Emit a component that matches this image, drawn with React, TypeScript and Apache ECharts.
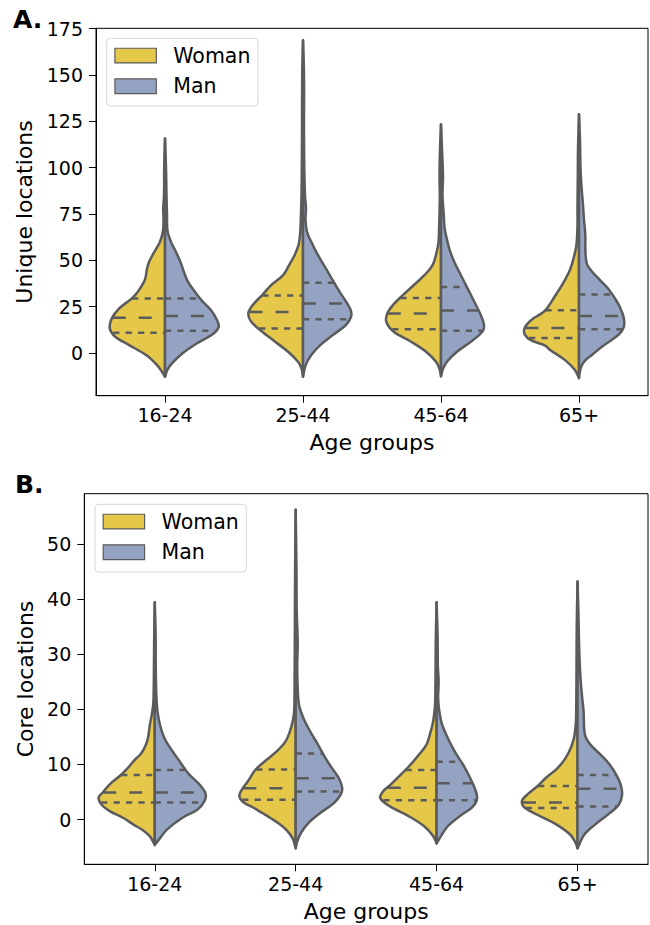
import React, { useEffect, useRef } from 'react';
import * as echarts from 'echarts';

// ---------- DATA ----------
const ageGroups = ['16-24', '25-44', '45-64', '65+'];
const sexes = ['Woman', 'Man'];
const uniqueTicks = [0, 25, 50, 75, 100, 125, 150, 175];
const coreTicks = [0, 10, 20, 30, 40, 50];

// density profiles: [value, relative density], from top of the violin to its bottom
const uniqueWomanDensity = [
  [[115.7, 0], [100, 0.8], [85, 1], [78, 1.8], [72, 1.5], [66, 2], [60, 5], [54.6, 10.7], [49.2, 16], [45.6, 18], [41, 19.5], [38.5, 21], [33.1, 27.3], [29.5, 33.3], [24.1, 46], [18.7, 53.5], [13.3, 55.5], [8.8, 50], [4.3, 36], [-1.1, 19], [-6.5, 8], [-10.1, 3], [-12.8, 0]],
  [[168.7, 0], [150, 0.8], [120, 1], [100, 1.2], [85, 1.5], [75, 2], [68, 2.5], [63.6, 3], [58.2, 4.5], [52.8, 8.5], [47.4, 14], [42, 20], [36.7, 32], [31.3, 41], [25.9, 50.5], [21.4, 55], [16.9, 52], [11.5, 41], [6.1, 28], [0.7, 15], [-4.7, 5], [-8.3, 1.5], [-12.8, 0]],
  [[123.3, 0], [110, 1], [95, 1.5], [85, 1.2], [75, 1.5], [66, 2], [60, 2.5], [54.6, 4.3], [47.4, 8.5], [42, 16.7], [36.7, 27.3], [31.3, 38.3], [25.9, 48.3], [21.4, 54], [16.9, 55], [11.5, 47.5], [6.1, 30], [0.7, 15], [-4.7, 5], [-8.5, 1.5], [-12.5, 0]],
  [[128.8, 0], [110, 1], [95, 1.2], [80, 1.5], [70, 1.5], [62, 2], [57, 3], [50, 6], [45, 9], [40, 13.5], [35, 19], [30, 25], [25, 31], [22, 36], [19, 45], [16, 51.5], [13, 55], [10, 54.5], [7, 48.5], [4, 34], [1.6, 29], [-3.8, 14], [-9.2, 4], [-13.5, 0]],
];
const uniqueManDensity = [
  [[115.7, 0], [100, 1], [85, 1.5], [75, 2], [66, 2.5], [60, 6], [54.6, 11], [49.2, 15.5], [43.8, 19], [38.5, 23], [33.1, 30], [28, 37.5], [23, 46.5], [17.5, 52.5], [14, 54], [10.6, 49], [5.2, 32], [0, 18], [-5.6, 7], [-9, 2.5], [-12.8, 0]],
  [[168.7, 0], [150, 1], [120, 1], [100, 1.3], [85, 2], [78, 3], [72, 2.5], [65.4, 4], [60, 8.3], [54.6, 13.3], [49.2, 19], [43.8, 25], [38.5, 30.7], [33.1, 36.7], [27.7, 43.3], [23.2, 48], [19.6, 48.3], [15.1, 43], [9.7, 30], [4.3, 17.3], [-1.1, 8.3], [-6.5, 2.7], [-12.8, 0]],
  [[123.3, 0], [110, 1], [95, 2], [85, 1.5], [75, 2.7], [68, 3.5], [63.6, 5], [56.4, 8.3], [49.2, 13.3], [42, 20], [34.9, 26.7], [27.7, 33.5], [20.5, 40], [15.1, 43.3], [11.5, 41.5], [6.1, 30], [0.7, 16], [-4.7, 6], [-8.5, 2], [-12.5, 0]],
  [[128.8, 0], [115, 1], [100, 1.5], [90, 2.5], [80, 4], [72, 5], [64, 6.3], [54, 6.5], [48, 8], [44, 13], [40, 20], [35, 29], [30, 35.5], [25, 41], [19, 45], [14, 45], [10, 40], [3.4, 23], [-1, 13], [-3.8, 6.5], [-7, 2.5], [-11, 0.5], [-13.5, 0]],
];
const coreWomanDensity = [
  [[39.4, 0], [34, 0.5], [28, 0.8], [24, 1], [21, 1.5], [19, 3], [17, 5], [15, 6.5], [13.5, 9], [12, 13.5], [10.8, 20], [9.3, 27], [8, 34], [6.5, 44], [5, 51], [4, 55.5], [2.7, 52.5], [1.5, 44], [0.3, 31], [-0.9, 21], [-1.9, 12], [-3, 5], [-3.9, 2], [-4.6, 0]],
  [[56.2, 0], [45, 0.6], [35, 0.8], [28, 1], [22, 1.2], [19.6, 1.5], [17.8, 3], [16, 5.7], [14.2, 10], [12.5, 18], [10.8, 29], [9, 40], [7, 47], [5.5, 53], [4.3, 55.7], [3.2, 52], [2.2, 42], [1.2, 33], [0.3, 25], [-0.8, 16], [-1.9, 9], [-3.4, 3], [-5.2, 0]],
  [[39.4, 0], [33, 0.8], [28, 1], [24, 1.2], [21, 1.5], [19, 2.5], [17.3, 4], [15.4, 6.7], [13.6, 10], [11.8, 17.3], [10, 25.7], [8.1, 35.7], [6.3, 45.7], [5.1, 53], [3.9, 55.7], [2.4, 46], [0.6, 27.3], [-1.2, 12.3], [-3, 3.3], [-4.3, 0]],
  [[43.2, 0], [35, 0.8], [28, 1], [22, 1.2], [18, 1.5], [16, 2.5], [14.8, 3.5], [13, 6.7], [11.2, 11.7], [9.3, 20], [7.5, 31.7], [6, 40], [4.5, 50], [3.3, 55], [2.1, 51.7], [0.6, 36.7], [-0.9, 20.7], [-2.7, 7.3], [-4.3, 1.7], [-5.2, 0]],
];
const coreManDensity = [
  [[39.4, 0], [34, 0.8], [28, 1], [24, 1.3], [21, 2], [19.6, 2.7], [17.3, 5], [15, 9], [13.5, 13.5], [12, 19], [10.8, 23.7], [10, 26.7], [8.3, 33.5], [6.3, 44.5], [4.7, 50.2], [3.3, 49], [1.8, 42], [0.3, 27], [-1.8, 12], [-3.4, 5], [-4.6, 0]],
  [[56.2, 0], [45, 0.8], [38, 1], [32, 2], [28, 1.5], [24, 2], [20.8, 3.3], [18.4, 7.7], [16, 14.3], [13.6, 22], [11.2, 29.3], [9.3, 36], [7.5, 42.7], [5.7, 46], [4.5, 44.3], [3, 37.7], [1.2, 24.3], [-0.6, 12.7], [-2.4, 5.3], [-4, 1.5], [-5.2, 0]],
  [[39.4, 0], [33, 1], [28, 1.2], [25, 2], [22, 1.5], [19.6, 2.7], [17.3, 5.3], [14.8, 11], [12.4, 17.7], [10, 26], [7.5, 33.3], [5.7, 37.7], [3.9, 40], [2.4, 36], [0.6, 22.7], [-1.2, 11], [-3, 4.3], [-4.3, 0]],
  [[43.2, 0], [38, 0.8], [32, 1.5], [27, 2.5], [23.2, 4], [19.6, 6], [15.4, 7.3], [13.6, 12.7], [11.8, 22.7], [10, 31.7], [8.1, 38.3], [6.3, 42.7], [4.5, 44], [2.7, 40.7], [0.9, 30], [-0.9, 17.3], [-2.7, 6.7], [-5.2, 0]],
];

// quartiles: [Q1, median, Q3]
const uniqueWomanQuartiles = [[10.9, 19.0, 29.5], [13.2, 22.1, 31.1], [12.9, 21.3, 29.7], [8.1, 13.5, 23.1]];
const uniqueManQuartiles = [[12.1, 20.0, 29.5], [18.3, 26.8, 38.0], [12.1, 23.0, 35.6], [12.9, 20.0, 31.6]];
const coreWomanQuartiles = [[3.1, 4.9, 8.1], [3.6, 5.7, 9.1], [3.5, 5.8, 9.0], [2.1, 3.1, 6.1]];
const coreManQuartiles = [[3.1, 4.9, 9.0], [5.1, 7.5, 12.0], [3.5, 6.6, 10.5], [2.4, 5.6, 8.1]];

// ---------- STYLE ----------
const FONT = '"DejaVu Sans", Verdana, sans-serif';
const GRAY = '#5b5b5b';
const WOMAN_COLOR = '#e5c849';
const MAN_COLOR = '#95a3c3';
const LW = 2.5;

type Profile = number[][];

function densityAt(profile: Profile, v: number): number {
  for (let i = 0; i < profile.length - 1; i++) {
    const [v0, d0] = profile[i];
    const [v1, d1] = profile[i + 1];
    if (v <= v0 && v >= v1) {
      const t = v0 === v1 ? 0 : (v0 - v) / (v0 - v1);
      return d0 + (d1 - d0) * t;
    }
  }
  return 0;
}

function maxDensity(...sets: Profile[][]): number {
  let m = 0;
  sets.forEach((s) => s.forEach((p) => p.forEach(([, d]) => { if (d > m) m = d; })));
  return m;
}

function violinSeries(name: string, side: number, profiles: Profile[], quartiles: number[][], axisIndex: number, maxD: number, color: string) {
  return {
    type: 'custom',
    name,
    xAxisIndex: axisIndex,
    yAxisIndex: axisIndex,
    itemStyle: { color, borderColor: GRAY, borderWidth: 1.2 },
    data: ageGroups.map((_, i) => [i, quartiles[i][1]]),
    renderItem: (params: any, api: any) => {
      const i = params.dataIndex;
      const band = api.size([1, 0])[0];
      const half = 0.4 * band;
      const prof = profiles[i];
      const pt = (v: number, d: number) => {
        const c = api.coord([i, v]);
        return [c[0] + side * (d / maxD) * half, c[1]];
      };
      const pts: number[][] = [];
      pts.push(pt(prof[0][0], 0));
      prof.forEach(([v, d]) => pts.push(pt(v, d)));
      pts.push(pt(prof[prof.length - 1][0], 0));
      const children: any[] = [
        {
          type: 'polygon',
          shape: { points: pts, smooth: 0.35 },
          style: { fill: color, stroke: GRAY, lineWidth: LW, lineJoin: 'round' },
        },
      ];
      quartiles[i].forEach((q, k) => {
        const c = api.coord([i, q]);
        const w = (densityAt(prof, q) / maxD) * half * 0.99;
        const outer = c[0] + side * w;
        children.push({
          type: 'line',
          shape: { x1: side < 0 ? outer : c[0], y1: c[1], x2: side < 0 ? c[0] : outer, y2: c[1] },
          style: { stroke: GRAY, lineWidth: LW, lineDash: k === 1 ? [13, 13] : [6.2, 6.2] },
        });
      });
      return { type: 'group', children };
    },
  };
}

function xAxisFor(gridIndex: number) {
  return {
    type: 'category',
    gridIndex,
    data: ageGroups,
    boundaryGap: true,
    axisLine: { show: true, onZero: false, lineStyle: { color: '#000', width: 1 } },
    axisTick: { show: true, alignWithLabel: true, length: 7, lineStyle: { color: '#000', width: 1 } },
    axisLabel: { color: '#000', fontSize: 19, fontFamily: FONT, margin: 10 },
    splitLine: { show: false },
    name: 'Age groups',
    nameLocation: 'middle',
    nameGap: 36,
    nameTextStyle: { color: '#000', fontSize: 22, fontFamily: FONT },
  };
}

function yAxisFor(gridIndex: number, min: number, max: number, ticks: number[], name: string, nameGap: number) {
  return {
    type: 'value',
    gridIndex,
    min,
    max,
    axisLine: { show: true, onZero: false, lineStyle: { color: '#000', width: 1 } },
    axisTick: { show: true, length: 7, customValues: ticks, lineStyle: { color: '#000', width: 1 } },
    axisLabel: { customValues: ticks, color: '#000', fontSize: 19, fontFamily: FONT, margin: 13 },
    splitLine: { show: false },
    name,
    nameLocation: 'middle',
    nameRotate: 90,
    nameGap,
    nameTextStyle: { color: '#000', fontSize: 22, fontFamily: FONT },
  };
}

function legendAt(left: number, top: number) {
  return {
    data: sexes,
    orient: 'vertical',
    left,
    top,
    icon: 'rect',
    itemWidth: 41.4,
    itemHeight: 14.7,
    itemGap: 9.7,
    padding: [6.8, 7.6, 9.3, 7.6],
    backgroundColor: 'rgba(255,255,255,0.8)',
    borderColor: '#d6d6d6',
    borderWidth: 1,
    borderRadius: 4,
    itemStyle: { borderColor: GRAY, borderWidth: 1.2 },
    textStyle: { color: '#000', fontSize: 20.5, fontFamily: FONT, lineHeight: 20, padding: [0, 0, 0, 12] },
    selectedMode: false,
  };
}

export default function App() {
  const ref = useRef<HTMLDivElement>(null);
  useEffect(() => {
    if (!ref.current) return;
    const chart = echarts.init(ref.current, undefined, { renderer: 'svg' });
    const maxA = maxDensity(uniqueWomanDensity, uniqueManDensity);
    const maxB = maxDensity(coreWomanDensity, coreManDensity);
    chart.setOption({
      animation: false,
      backgroundColor: '#ffffff',
      textStyle: { fontFamily: FONT },
      grid: [
        { left: 96, top: 28.3, width: 552, height: 367.4, show: true, borderColor: '#000', borderWidth: 1, backgroundColor: 'transparent' },
        { left: 84.3, top: 493.7, width: 563.7, height: 370.6, show: true, borderColor: '#000', borderWidth: 1, backgroundColor: 'transparent' },
      ],
      xAxis: [xAxisFor(0), xAxisFor(1)],
      yAxis: [
        yAxisFor(0, -23, 175.2, uniqueTicks, 'Unique locations', 55),
        yAxisFor(1, -8.1, 59.1, coreTicks, 'Core locations', 41),
      ],
      legend: [legendAt(106.7, 38.3), legendAt(95, 504.3)],
      graphic: [
        { type: 'text', x: 13, y: 7, style: { text: 'A.', font: `bold 25px ${FONT}`, fill: '#000', verticalAlign: 'top' } },
        { type: 'text', x: 15, y: 472, style: { text: 'B.', font: `bold 25px ${FONT}`, fill: '#000', verticalAlign: 'top' } },
      ],
      series: [
        violinSeries('Woman', -1, uniqueWomanDensity, uniqueWomanQuartiles, 0, maxA, WOMAN_COLOR),
        violinSeries('Man', 1, uniqueManDensity, uniqueManQuartiles, 0, maxA, MAN_COLOR),
        violinSeries('Woman', -1, coreWomanDensity, coreWomanQuartiles, 1, maxB, WOMAN_COLOR),
        violinSeries('Man', 1, coreManDensity, coreManQuartiles, 1, maxB, MAN_COLOR),
      ],
    });
    return () => chart.dispose();
  }, []);
  return (
    <div
      ref={ref}
      style={{ position: 'absolute', left: 0, top: 0, width: 650, height: 925, background: '#fff' }}
    />
  );
}
